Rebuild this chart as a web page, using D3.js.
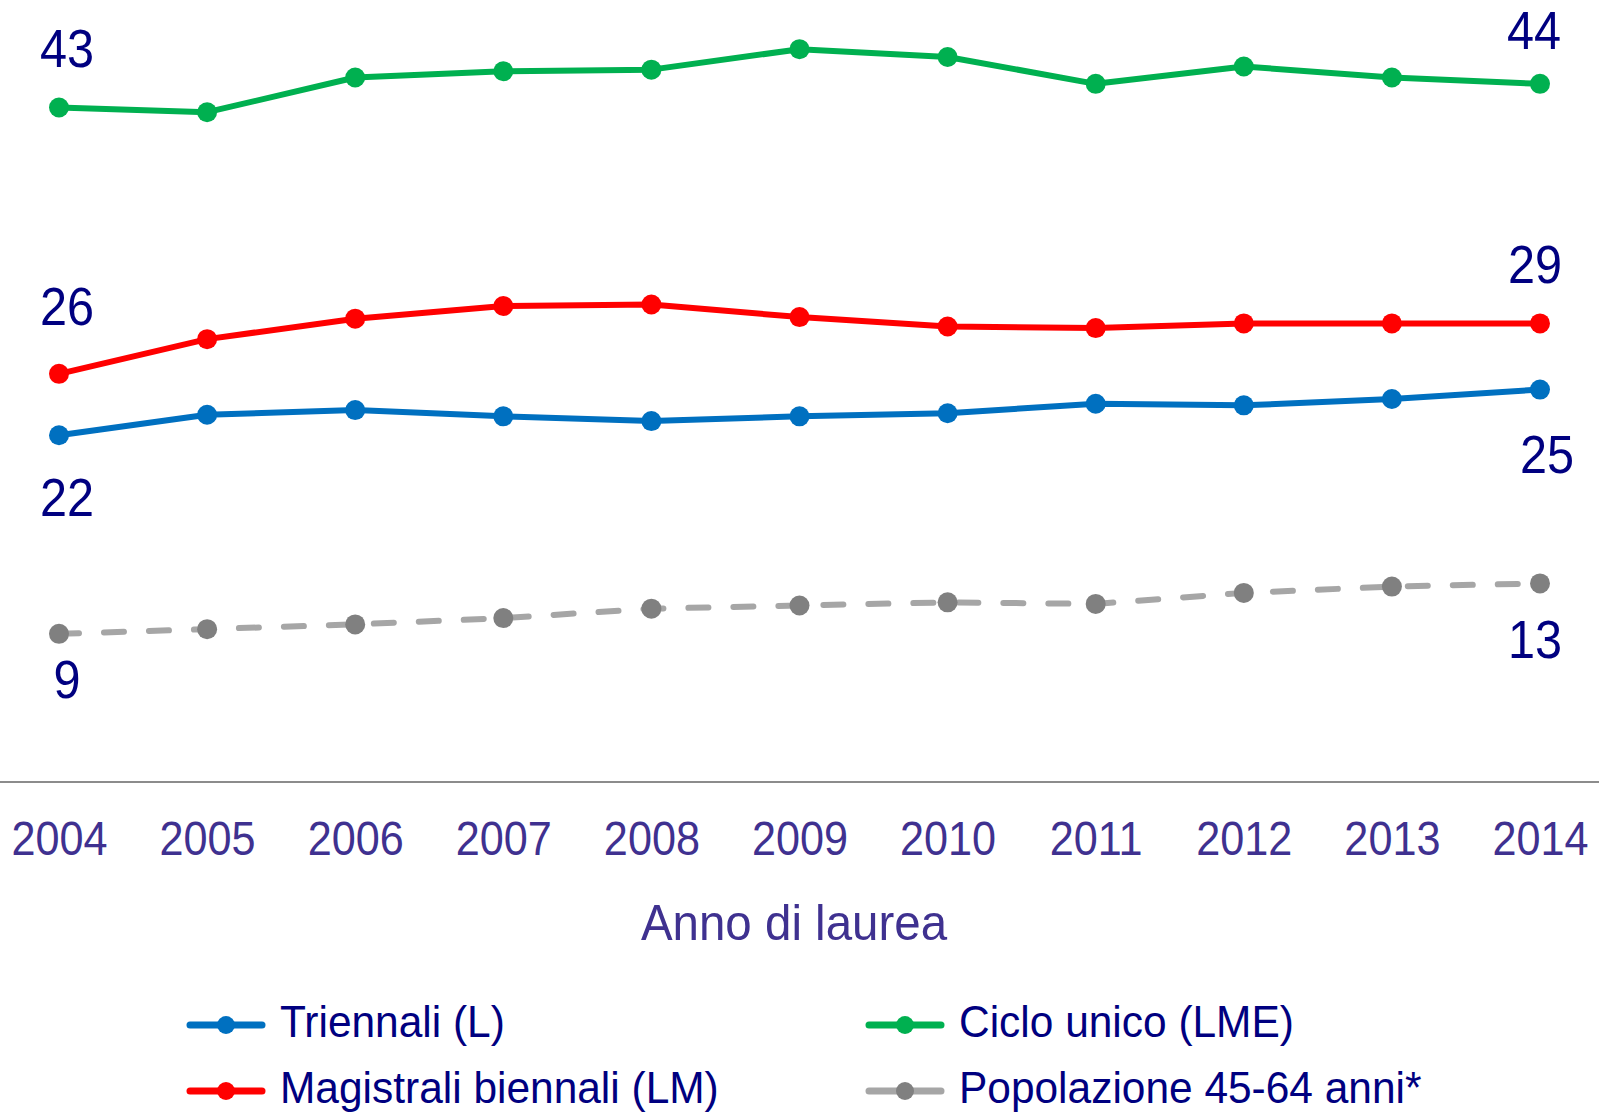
<!DOCTYPE html>
<html>
<head>
<meta charset="utf-8">
<script src="https://cdn.jsdelivr.net/npm/d3@7"></script>
<style>
    body { margin: 0; background: #ffffff; }
    svg { display: block; }
    text { font-family: "Liberation Sans", Arial, sans-serif; }
</style>
</head>
<body>
<svg></svg>
<script>
var width = 1599;
var height = 1112;
var plot = {left: 59, right: 1540, zeroY: 782, topY: -6};

// data
var years = ["2004", "2005", "2006", "2007", "2008", "2009", "2010", "2011", "2012", "2013", "2014"];
var seriesNames = ["Triennali (L)", "Magistrali biennali (LM)", "Ciclo unico (LME)", "Popolazione 45-64 anni*"];
var triennali = [22.0, 23.3, 23.6, 23.2, 22.9, 23.2, 23.4, 24.0, 23.9, 24.3, 24.9];
var magistrali = [25.9, 28.1, 29.4, 30.2, 30.3, 29.5, 28.9, 28.8, 29.1, 29.1, 29.1];
var cicloUnico = [42.8, 42.5, 44.7, 45.1, 45.2, 46.5, 46.0, 44.3, 45.4, 44.7, 44.3];
var popolazione = [9.4, 9.7, 10.0, 10.4, 11.0, 11.2, 11.4, 11.3, 12.0, 12.4, 12.6];
var axisTitle = "Anno di laurea";

// styles, one per series (same order as seriesNames)
var styles = [
    {line: "#0070c0", dot: "#0070c0", dash: null, firstDy: 81, lastDy: 83, lastDx: 7},
    {line: "#ff0000", dot: "#ff0000", dash: null, firstDy: -49, lastDy: -40, lastDx: -5},
    {line: "#00b050", dot: "#00b050", dash: null, firstDy: -40, lastDy: -35, lastDx: -6},
    {line: "#a6a6a6", dot: "#808080", dash: "20 25", firstDy: 64, lastDy: 75, lastDx: -5}
];
var seriesValues = [triennali, magistrali, cicloUnico, popolazione];

var labelColor = "#000080";
var tickColor = "#3f3190";
var narrow = 0.9; // the original uses a condensed face

var svg = d3.select("svg")
    .attr("width", width)
    .attr("height", height);

var x = d3.scalePoint()
    .domain(years)
    .range([plot.left, plot.right]);

var y = d3.scaleLinear()
    .domain([0, 50])
    .range([plot.zeroY, plot.topY]);

// text squeezed horizontally around its anchor point
function squeezedText(parent, tx, ty, sx, anchor) {
    return parent.append("text")
        .attr("transform", "translate(" + tx + "," + ty + ") scale(" + sx + ",1)")
        .attr("text-anchor", anchor);
}

function drawXAxis() {
    svg.append("line")
        .attr("x1", 0)
        .attr("x2", width)
        .attr("y1", plot.zeroY)
        .attr("y2", plot.zeroY)
        .attr("stroke", "#8c8c8c")
        .attr("stroke-width", 2);

    var axis = d3.axisBottom(x).tickSize(0).tickPadding(0);
    var g = svg.append("g")
        .attr("transform", "translate(0," + 855 + ")")
        .call(axis);
    g.select(".domain").remove();
    g.selectAll("text")
        .attr("dy", 0)
        .attr("y", 0)
        .attr("transform", "scale(" + narrow + ",1)")
        .attr("fill", tickColor)
        .style("font-size", "48px")
        .style("font-family", null);

    squeezedText(svg, 794, 940, 0.95, "middle")
        .attr("fill", tickColor)
        .style("font-size", "50px")
        .text(axisTitle);
}

function drawSeries(values, style) {
    var points = values.map(function(v, i) { return [years[i], v]; });
    var line = d3.line()
        .x(function(d) { return x(d[0]); })
        .y(function(d) { return y(d[1]); });

    var g = svg.append("g");
    g.append("path")
        .datum(points)
        .attr("d", line)
        .attr("fill", "none")
        .attr("stroke", style.line)
        .attr("stroke-width", 6)
        .attr("stroke-linecap", style.dash ? "round" : "butt")
        .attr("stroke-linejoin", "round")
        .attr("stroke-dasharray", style.dash);
    g.selectAll("circle")
        .data(points)
        .enter()
        .append("circle")
        .attr("cx", function(d) { return x(d[0]); })
        .attr("cy", function(d) { return y(d[1]); })
        .attr("r", 10)
        .attr("fill", style.dot);

    // end value labels
    var fmt = d3.format(".0f");
    var first = points[0];
    var last = points[points.length - 1];
    squeezedText(g, x(first[0]) + 8, y(first[1]) + style.firstDy, narrow, "middle")
        .attr("fill", labelColor)
        .style("font-size", "54px")
        .text(fmt(first[1]));
    squeezedText(g, x(last[0]) + style.lastDx, y(last[1]) + style.lastDy, narrow, "middle")
        .attr("fill", labelColor)
        .style("font-size", "54px")
        .text(fmt(last[1]));
}

function drawLegend() {
    var cols = [190, 869];
    var rows = [1025, 1091];
    var order = [0, 2, 1, 3]; // row-wise: Triennali, Ciclo unico / Magistrali, Popolazione
    order.forEach(function(s, k) {
        var lx = cols[k % 2];
        var ly = rows[Math.floor(k / 2)];
        var g = svg.append("g").attr("transform", "translate(" + lx + "," + ly + ")");
        g.append("line")
            .attr("x1", 0)
            .attr("x2", 72)
            .attr("y1", 0)
            .attr("y2", 0)
            .attr("stroke", styles[s].line)
            .attr("stroke-width", 7)
            .attr("stroke-linecap", "round");
        g.append("circle")
            .attr("cx", 36)
            .attr("cy", 0)
            .attr("r", 9)
            .attr("fill", styles[s].dot);
        squeezedText(g, 90, 12, 0.965, "start")
            .attr("fill", labelColor)
            .style("font-size", "44px")
            .text(seriesNames[s]);
    });
}

drawXAxis();
seriesValues.forEach(function(values, i) {
    drawSeries(values, styles[i]);
});
drawLegend();
</script>
</body>
</html>
